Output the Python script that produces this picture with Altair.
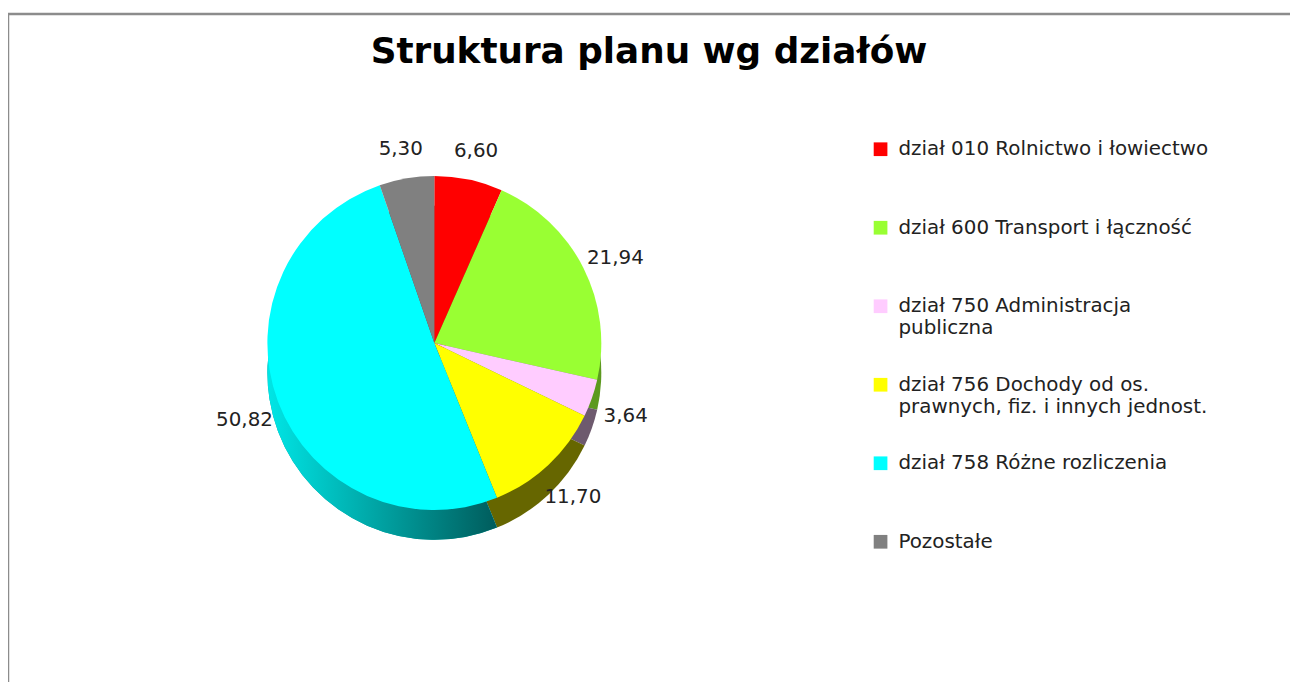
import altair as alt
import pandas as pd

# ---- data ----
categories = [
    "dział 010 Rolnictwo i łowiectwo",
    "dział 600 Transport  i łączność",
    "dział 750 Administracja\npubliczna",
    "dział 756 Dochody od os.\nprawnych, fiz. i innych jednost.",
    "dział 758 Różne  rozliczenia",
    "Pozostałe",
]
values = [6.60, 21.94, 3.64, 11.70, 50.82, 5.30]
title_text = "Struktura planu wg działów"

top_colors = ["#ff0000", "#99ff33", "#ffccff", "#ffff00", "#00ffff", "#808080"]
side_colors = ["#990000", "#5c991f", "#6e5a6e", "#666600", "#00a0a0", "#4d4d4d"]

df = pd.DataFrame({"category": categories, "value": values})
df["idx"] = range(len(df))

FONT = "DejaVu Sans"
W, H = 1290, 606
CX, CY = 429, 265
R = 168
DEPTH = 30

base = alt.Chart(df)
theta = alt.Theta("value:Q", stack=True)
order = alt.Order("idx:Q")

side = base.mark_arc(outerRadius=R).encode(
    theta=theta,
    order=order,
    color=alt.Color("category:N", sort=categories,
                    scale=alt.Scale(domain=categories, range=side_colors),
                    legend=None),
    x=alt.value(CX), y=alt.value(CY + DEPTH),
)

cyan_side = alt.Chart(df).transform_stack(
    stack="value", groupby=[], as_=["start", "end"],
    sort=[alt.SortField("idx", order="ascending")]
).transform_filter(alt.datum.idx == 4).mark_arc(
    outerRadius=R,
    fill=alt.LinearGradient(
        gradient="linear",
        stops=[alt.GradientStop(color="#00e6e6", offset=0),
               alt.GradientStop(color="#005c5c", offset=1)],
        x1=0, x2=1, y1=0, y2=0,
    ),
).encode(
    theta=alt.Theta("start:Q", scale=alt.Scale(domain=[0, 100])),
    theta2="end:Q",
    x=alt.value(CX), y=alt.value(CY + DEPTH),
)

top = base.mark_arc(outerRadius=R).encode(
    theta=theta,
    order=order,
    color=alt.Color(
        "category:N", sort=categories,
        scale=alt.Scale(domain=categories, range=top_colors),
        legend=alt.Legend(
            title=None, orient="none", legendX=868, legendY=60,
            symbolType="square", symbolSize=190, symbolStrokeWidth=0,
            labelFont=FONT, labelFontSize=20, labelColor="#222222",
            labelLimit=500, rowPadding=37, padding=0, labelOffset=8,
            labelExpr="split(datum.label, '\\n')",
            labelBaseline="middle", gridAlign="all",
        ),
    ),
    x=alt.value(CX), y=alt.value(CY),
)

labels = base.transform_calculate(
    lab="replace(format(datum.value, '.2f'), '.', ',')"
).mark_text(radius=R + 36, font=FONT, fontSize=20, color="#222222").encode(
    theta=theta,
    order=order,
    text="lab:N",
    x=alt.value(CX), y=alt.value(CY + 6),
)

frame_df = pd.DataFrame({"k": [0]})
frame_top = alt.Chart(frame_df).mark_rule(color="#8c8c8c", strokeWidth=2.5).encode(
    x=alt.value(0), x2=alt.value(W), y=alt.value(-66)
)
frame_left = alt.Chart(frame_df).mark_rule(color="#8c8c8c", strokeWidth=2.5).encode(
    x=alt.value(0), y=alt.value(-66), y2=alt.value(H)
)

chart = alt.layer(
    frame_top, frame_left, side, cyan_side, top, labels
).resolve_scale(
    color="independent", theta="independent"
).properties(
    width=W, height=H,
    padding={"top": 70, "left": 0, "right": 0, "bottom": 0},
    autosize=alt.AutoSizeParams(type="none"),
    title=alt.TitleParams(title_text, font=FONT, fontSize=36, fontWeight="bold",
                          color="#000000", anchor="middle", offset=8, dy=66),
).configure_view(stroke=None)

chart.save("out.html", embed_options={"renderer": "svg", "actions": False})
